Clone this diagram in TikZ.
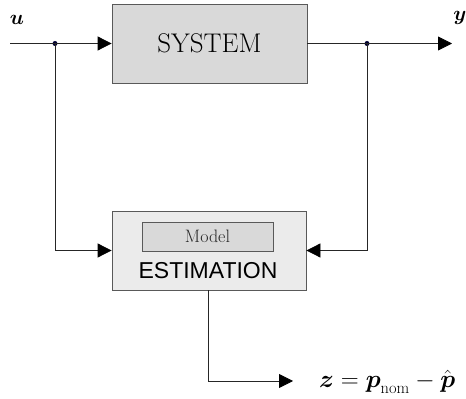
\documentclass[tikz,border=0pt]{standalone}
\usepackage{amsmath,amssymb}
\usepackage{fontspec}
\newfontfamily\helv{Liberation Sans}
\usepackage{tikz}
\usetikzlibrary{arrows.meta,positioning,calc}

\begin{document}
\begin{tikzpicture}[
    x=1pt, y=1pt,
    block/.style={draw=black!65, line width=0.8pt, fill=black!15, minimum width=195pt, minimum height=79pt, inner sep=0pt},
    inner/.style={draw=black!65, line width=0.8pt, fill=black!15, minimum width=131pt, minimum height=29pt, inner sep=0pt, font=\fontsize{18}{21}\selectfont, text=black!85},
    sig/.style={-{Triangle[length=14pt,width=14pt,color=black]}, line width=0.8pt, black!85},
    dot/.style={circle, fill=blue!20!black, inner sep=0pt, minimum size=5pt},
    lbl/.style={font=\fontsize{21}{25}\selectfont}
]
\useasboundingbox (0,0) rectangle (466,399);

\node[block, font=\fontsize{27}{32}\selectfont, text=black] (sys) at (209.5,355.5) {SYSTEM};
\node[block, fill=black!8, minimum width=194pt] (est) at (209,148.5) {};
\node[inner] (model) at (207.5,162.5) {Model};
\node[font=\helv\fontsize{23}{27}\selectfont, inner sep=0pt, text=black] (esttxt) at (208,128) {ESTIMATION};

% signals
\coordinate (in) at (10,355.5);
\coordinate (out) at (452,355.5);
\node[dot] (jin) at (55,355.5) {};
\node[dot] (jout) at (367,355.5) {};
\coordinate (zc) at (208,18);
\coordinate (zend) at (293,18);

\node[lbl] (u) at (17,379) {$\boldsymbol{u}$};
\node[lbl] (y) at (460,381) {$\boldsymbol{y}$};
\node[lbl, font=\fontsize{23.5}{28}\selectfont, anchor=west, inner sep=0pt] (z) at (319,17) {$\boldsymbol{z}=\boldsymbol{p}_{\mathrm{nom}}-\hat{\boldsymbol{p}}$};

\draw[sig] (in) -- (sys.west);
\draw[sig] (sys.east) -- (out);
\draw[sig] (jin.center) |- (est.west);
\draw[sig] (jout.center) |- (est.east);
\draw[sig] (est.south -| zc) |- (zend);
\end{tikzpicture}
\end{document}
